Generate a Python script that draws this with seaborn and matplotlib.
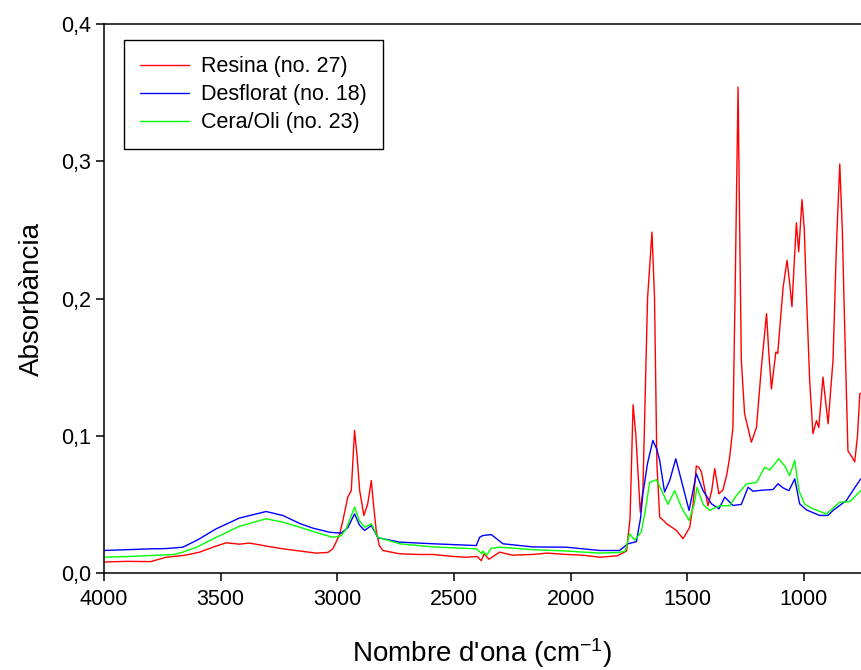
import matplotlib
matplotlib.use("Agg")
import matplotlib.pyplot as plt
import seaborn as sns
import pandas as pd
from matplotlib.ticker import FuncFormatter

# ---------------- data ----------------
series_names = ["Resina (no. 27)", "Desflorat (no. 18)", "Cera/Oli (no. 23)"]
series_colors = ["#FF0000", "#0000FF", "#00FF00"]

wn_resina = [4000, 3900, 3800, 3733, 3650, 3590, 3530, 3476, 3420, 3376, 3300, 3233, 3160,
             3090, 3040, 3019, 2990, 2976, 2955, 2940, 2926, 2915, 2904, 2886, 2870, 2854,
             2845, 2833, 2820, 2804, 2733, 2650, 2590, 2500, 2447, 2400, 2383, 2370, 2350,
             2304, 2250, 2162, 2100, 2018, 1950, 1875, 1800, 1760, 1745, 1732, 1720, 1701,
             1690, 1670, 1651, 1640, 1630, 1618, 1600, 1589, 1546, 1518, 1489, 1475, 1461,
             1450, 1439, 1411, 1395, 1382, 1364, 1347, 1330, 1318, 1304, 1295, 1282, 1275,
             1268, 1254, 1225, 1203, 1182, 1160, 1150, 1139, 1120, 1112, 1089, 1072, 1060,
             1051, 1040, 1032, 1022, 1008, 998, 989, 975, 961, 946, 936, 918, 896, 875, 860,
             846, 835, 825, 811, 793, 782, 770, 760, 755]
abs_resina = [0.008, 0.0085, 0.0083, 0.0115, 0.013, 0.0152, 0.019, 0.022, 0.021, 0.0218,
              0.0195, 0.0176, 0.016, 0.0145, 0.015, 0.0176, 0.028, 0.0383, 0.0553, 0.060,
              0.1039, 0.085, 0.060, 0.0419, 0.050, 0.0674, 0.050, 0.031, 0.020, 0.0164,
              0.014, 0.0135, 0.0135, 0.012, 0.0115, 0.012, 0.009, 0.014, 0.010, 0.0152,
              0.013, 0.0135, 0.0145, 0.0135, 0.013, 0.0115, 0.0125, 0.016, 0.040, 0.1226,
              0.100, 0.0443, 0.060, 0.200, 0.2484, 0.200, 0.080, 0.0407, 0.038, 0.036,
              0.031, 0.025, 0.0334, 0.050, 0.078, 0.077, 0.0735, 0.049, 0.060, 0.076,
              0.0577, 0.0605, 0.072, 0.0844, 0.106, 0.200, 0.354, 0.250, 0.155, 0.116,
              0.0953, 0.106, 0.150, 0.189, 0.160, 0.134, 0.161, 0.160, 0.208, 0.2278,
              0.210, 0.194, 0.230, 0.2552, 0.234, 0.272, 0.250, 0.2035, 0.140, 0.1015,
              0.111, 0.106, 0.1427, 0.1087, 0.155, 0.240, 0.298, 0.250, 0.179, 0.089,
              0.0844, 0.081, 0.100, 0.1306, 0.131]

wn_desflorat = [4000, 3900, 3800, 3733, 3662, 3600, 3519, 3420, 3305, 3233, 3160, 3105,
                3033, 2983, 2955, 2926, 2905, 2883, 2854, 2826, 2733, 2590, 2404, 2390,
                2376, 2340, 2310, 2290, 2162, 2018, 1875, 1790, 1754, 1718, 1700, 1690,
                1670, 1647, 1630, 1618, 1597, 1575, 1549, 1525, 1492, 1475, 1461, 1432,
                1396, 1364, 1339, 1304, 1268, 1239, 1218, 1175, 1132, 1111, 1089, 1064,
                1039, 1018, 989, 932, 896, 875, 818, 790, 756]
abs_desflorat = [0.0164, 0.017, 0.0176, 0.0178, 0.0188, 0.024, 0.0322, 0.040, 0.0448,
                 0.0419, 0.036, 0.0327, 0.0297, 0.029, 0.033, 0.0431, 0.035, 0.031, 0.0346,
                 0.0257, 0.0225, 0.0213, 0.020, 0.026, 0.0273, 0.028, 0.024, 0.0213, 0.019,
                 0.0188, 0.0164, 0.0164, 0.0213, 0.0228, 0.040, 0.0577, 0.080, 0.0966, 0.090,
                 0.082, 0.059, 0.0674, 0.0832, 0.0674, 0.0456, 0.060, 0.0723, 0.060, 0.0504,
                 0.0468, 0.0553, 0.0492, 0.050, 0.0625, 0.0596, 0.0604, 0.0608, 0.065, 0.062,
                 0.060, 0.0686, 0.0504, 0.046, 0.0419, 0.042, 0.0456, 0.0528, 0.060, 0.0686]

wn_cera = [4000, 3900, 3800, 3700, 3662, 3600, 3519, 3420, 3305, 3233, 3162, 3080, 3019,
           2985, 2962, 2926, 2905, 2883, 2854, 2826, 2733, 2590, 2404, 2380, 2376, 2360,
           2340, 2304, 2162, 2018, 1875, 1790, 1765, 1747, 1725, 1697, 1680, 1661, 1632,
           1604, 1582, 1554, 1525, 1492, 1470, 1458, 1432, 1404, 1361, 1318, 1289, 1246,
           1203, 1168, 1146, 1108, 1082, 1061, 1039, 1021, 996, 961, 903, 846, 803, 756]
abs_cera = [0.0115, 0.012, 0.0127, 0.0135, 0.0152, 0.019, 0.026, 0.034, 0.0395, 0.037,
            0.0334, 0.029, 0.026, 0.027, 0.032, 0.048, 0.038, 0.0334, 0.0358, 0.026, 0.0213,
            0.019, 0.0176, 0.014, 0.016, 0.013, 0.018, 0.0188, 0.017, 0.016, 0.0145, 0.015,
            0.016, 0.0286, 0.024, 0.030, 0.045, 0.066, 0.068, 0.058, 0.050, 0.060, 0.048,
            0.0383, 0.050, 0.0625, 0.050, 0.0456, 0.049, 0.049, 0.0565, 0.0648, 0.066,
            0.077, 0.075, 0.0832, 0.078, 0.071, 0.082, 0.060, 0.050, 0.0468, 0.043, 0.0516,
            0.052, 0.060]

x_ticks = [4000, 3500, 3000, 2500, 2000, 1500, 1000]
y_ticks = [0.0, 0.1, 0.2, 0.3, 0.4]
x_label = "Nombre d'ona (cm$^{-1}$)"
y_label = "Absorbància"

# ---------------- plotting ----------------
sns.set_style("ticks")
plt.rcParams["font.family"] = ["Liberation Sans", "DejaVu Sans"]
plt.rcParams["mathtext.fontset"] = "custom"
plt.rcParams["mathtext.rm"] = "Liberation Sans"
plt.rcParams["mathtext.it"] = "Liberation Sans"
plt.rcParams["text.color"] = "black"
plt.rcParams["axes.labelcolor"] = "black"
plt.rcParams["xtick.color"] = "black"
plt.rcParams["ytick.color"] = "black"

fig = plt.figure(figsize=(8.61, 6.70), dpi=100)
W, H = 861, 670
ax = fig.add_axes([104 / W, (H - 573) / H, (861 - 104) / W, (573 - 24) / H])

frames = []
for name, wn, ab in [(series_names[0], wn_resina, abs_resina),
                     (series_names[1], wn_desflorat, abs_desflorat),
                     (series_names[2], wn_cera, abs_cera)]:
    frames.append(pd.DataFrame({"wn": wn, "abs": ab, "sample": name}))
df = pd.concat(frames, ignore_index=True)

sns.lineplot(data=df, x="wn", y="abs", hue="sample", hue_order=series_names,
             palette=series_colors, sort=False, estimator=None, linewidth=1.0, ax=ax)

ax.set_xlim(4000, 755)
ax.set_ylim(0, 0.4)
ax.set_xticks(x_ticks)
ax.set_yticks(y_ticks)
ax.yaxis.set_major_formatter(FuncFormatter(lambda v, p: f"{v:.1f}".replace(".", ",")))
ax.tick_params(axis="both", direction="out", length=5.5, width=1.1, labelsize=15.5,
               colors="black", labelcolor="black", pad=4)
ax.tick_params(axis="x", pad=6)

for s in ["left", "bottom", "top"]:
    ax.spines[s].set_visible(True)
    ax.spines[s].set_linewidth(1.1)
    ax.spines[s].set_color("black")
ax.spines["right"].set_visible(False)

ax.set_xlabel(x_label, fontsize=20, labelpad=19, color="black")
ax.set_ylabel(y_label, fontsize=20, labelpad=11, color="black")

leg = ax.legend(loc="upper left", bbox_to_anchor=(0.026, 0.971), borderaxespad=0,
                frameon=True, fancybox=False, edgecolor="black", framealpha=1,
                fontsize=15.5, handlelength=2.3, labelspacing=0.33, borderpad=0.75,
                handletextpad=0.55, title=None)
leg.get_frame().set_linewidth(1.0)
for line in leg.get_lines():
    line.set_linewidth(1.0)
for t in leg.get_texts():
    t.set_color("black")

fig.savefig("out.png", dpi=100)
